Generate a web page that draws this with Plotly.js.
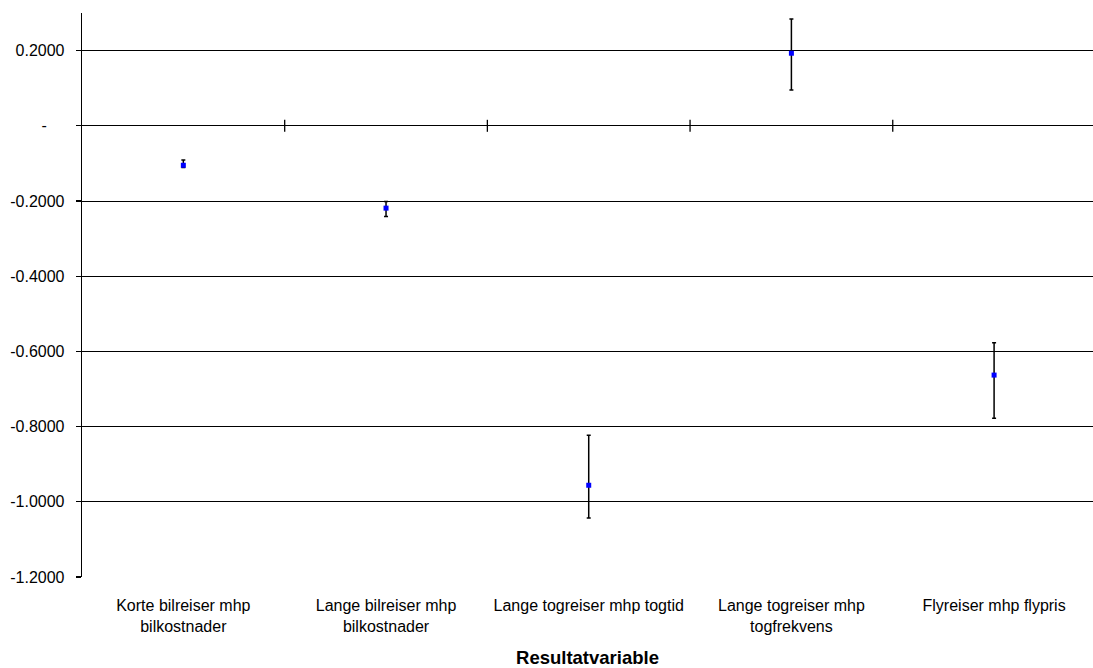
<!DOCTYPE html>
<html>
<head>
<meta charset="utf-8">
<script src="https://cdn.plot.ly/plotly-3.0.1.min.js"></script>
<style>html,body{margin:0;padding:0;background:#fff;}#chart{width:1093px;height:668px;}</style>
</head>
<body>
<div id="chart"></div>
<script>
const categories = [
  "Korte bilreiser mhp<br>bilkostnader",
  "Lange bilreiser mhp<br>bilkostnader",
  "Lange togreiser mhp togtid",
  "Lange togreiser mhp<br>togfrekvens",
  "Flyreiser mhp flypris"
];
const estimates = [-0.105, -0.219, -0.956, 0.193, -0.663];
const upperErr = [0.014, 0.018, 0.133, 0.091, 0.086];
const lowerErr = [0.006, 0.022, 0.087, 0.098, 0.115];
const yTickVals = [-1.2, -1.0, -0.8, -0.6, -0.4, -0.2, 0, 0.2];
const yTickText = ["-1.2000", "-1.0000", "-0.8000", "-0.6000", "-0.4000", "-0.2000", "-\u00a0\u00a0\u00a0\u00a0", "0.2000"];
const boundaryTicks = [0.5, 1.5, 2.5, 3.5];

const font = "Liberation Sans, Arial, sans-serif";

const trace = {
  type: "scatter",
  mode: "markers",
  x: categories,
  y: estimates,
  marker: {symbol: "square", size: 5, color: "#0000FF"},
  error_y: {
    type: "data",
    symmetric: false,
    array: upperErr,
    arrayminus: lowerErr,
    color: "#000000",
    thickness: 1.5,
    width: 2
  },
  showlegend: false,
  hoverinfo: "y"
};

const shapes = boundaryTicks.map(v => ({
  type: "line",
  xref: "x", yref: "y",
  ysizemode: "pixel", yanchor: 0,
  x0: v, x1: v, y0: -6, y1: 6,
  line: {color: "#000", width: 1.3}
}));

const layout = {
  width: 1093, height: 668,
  margin: {l: 82, r: 0, t: 13, b: 91},
  paper_bgcolor: "#fff", plot_bgcolor: "#fff",
  font: {family: font, size: 16, color: "#000"},
  xaxis: {
    type: "category",
    range: [-0.5, 4.488],
    showgrid: false, zeroline: false, showline: false,
    ticks: "",
    ticklabelstandoff: 17,
    tickfont: {family: font, size: 16, color: "#000"},
    title: {text: "<b>Resultatvariable</b>", font: {family: font, size: 18.5, color: "#000"}, standoff: 17}
  },
  yaxis: {
    range: [-1.2, 0.3],
    tickvals: yTickVals,
    ticktext: yTickText,
    showgrid: true, gridcolor: "#000", gridwidth: 1,
    zeroline: true, zerolinecolor: "#000", zerolinewidth: 1.3,
    showline: true, linecolor: "#000", linewidth: 1.3,
    ticks: "outside", ticklen: 5, tickcolor: "#000", tickwidth: 1.3,
    ticklabelstandoff: 8,
    tickfont: {family: font, size: 16, color: "#000"}
  },
  shapes: shapes
};

Plotly.newPlot("chart", [trace], layout, {displayModeBar: false, staticPlot: true});
</script>
</body>
</html>
